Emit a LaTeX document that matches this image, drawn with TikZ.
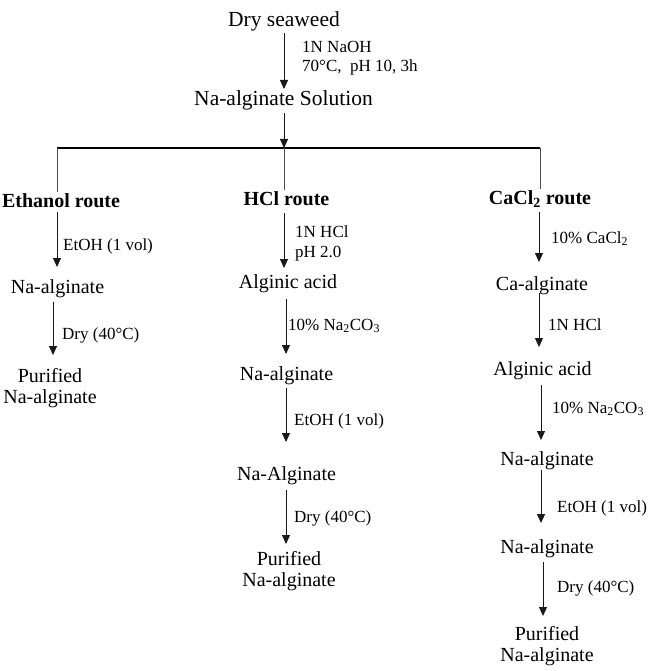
\documentclass[tikz,border=0pt]{standalone}
\usepackage{fontspec}
\setmainfont{Liberation Serif}
\usetikzlibrary{arrows.meta}
\begin{document}
\begin{tikzpicture}[x=1pt,y=-1pt,
  topn/.style={font=\fontsize{21.5}{23}\selectfont, inner sep=0pt, anchor=base},
  stepn/.style={font=\fontsize{20}{21}\selectfont, inner sep=0pt, anchor=base},
  endn/.style={font=\fontsize{20}{21}\selectfont, inner sep=0pt, anchor=north, align=center},
  route/.style={font=\fontsize{20}{21}\selectfont\bfseries, inner sep=1pt, anchor=base},
  lbl/.style={font=\fontsize{17}{19}\selectfont, inner sep=0pt, anchor=base west},
  arr/.style={draw=black!90, line width=0.9pt, -{Triangle[length=9pt,width=8pt]}},
  ln/.style={draw=black!70, line width=0.9pt},
  hl/.style={draw=black, line width=1.2pt}]
\useasboundingbox[fill=white] (0,0) rectangle (665,671);

% top
\node[topn] (dry) at (284,27) {Dry seaweed};
\node[topn] (sol) at (283.5,106) {Na-alginate Solution};
\node[lbl] (c1a) at (302,53) {1N NaOH};
\node[lbl] (c1b) at (302,72) {70°C,\ \ pH 10, 3h};
\draw[arr] ([yshift=-6pt]dry.base) -- ([xshift=0.5pt,yshift=17pt]sol.base);

\coordinate (jL) at (57,148);
\coordinate (jM) at (284,148);
\coordinate (jR) at (540,148);
\draw[arr] ([xshift=0.5pt,yshift=-7pt]sol.base) -- (jM);
\draw[hl] (jL) -- (jR);

% routes
\node[route] (eth) at (61,207) {Ethanol route};
\node[route] (hcl) at (286.5,205) {HCl route};
\node[route] (cac) at (540,204) {CaCl\textsubscript{2} route};
\draw[ln] (jL) -- (jL |- eth.north);
\draw[ln] (jM) -- (jM |- hcl.north);
\draw[ln] (jR) -- (jR |- cac.north);

% left column
\node[stepn] (L1) at (57.5,293) {Na-alginate};
\node[endn] (L2) at (50,368.5) {Purified\\Na-alginate};
\node[lbl] (lL1) at (63,250) {EtOH (1 vol)};
\node[lbl] (lL2) at (62,339) {Dry (40°C)};
\draw[arr] ([xshift=-4pt,yshift=-5pt]eth.base) -- ([xshift=-0.5pt,yshift=26pt]L1.base);
\draw[arr] ([xshift=-4.5pt,yshift=-9pt]L1.base) -- ([xshift=3pt,yshift=13.5pt]L2.north);

% middle column
\node[stepn] (M1) at (288,288) {Alginic acid};
\node[stepn] (M2) at (286.5,380) {Na-alginate};
\node[stepn] (M3) at (286.5,480) {Na-Alginate};
\node[endn] (M4) at (289,551.3) {Purified\\Na-alginate};
\node[lbl] (lM1a) at (295,237) {1N HCl};
\node[lbl] (lM1b) at (295,257) {pH 2.0};
\node[lbl] (lM2) at (288,330) {10\% Na\textsubscript{2}CO\textsubscript{3}};
\node[lbl] (lM3) at (294,425) {EtOH (1 vol)};
\node[lbl] (lM4) at (294,522) {Dry (40°C)};
\draw[arr] ([xshift=-2.5pt,yshift=-8pt]hcl.base) -- ([xshift=-4pt,yshift=20pt]M1.base);
\draw[arr] ([xshift=-2pt,yshift=-11pt]M1.base) -- ([xshift=-0.5pt,yshift=26pt]M2.base);
\draw[arr] ([xshift=-0.5pt,yshift=-8pt]M2.base) -- ([xshift=-0.5pt,yshift=38pt]M3.base);
\draw[arr] ([xshift=-0.5pt,yshift=-10pt]M3.base) -- ([xshift=-3pt,yshift=7.3pt]M4.north);

% right column
\node[stepn] (R1) at (542,290) {Ca-alginate};
\node[stepn] (R2) at (542.5,375) {Alginic acid};
\node[stepn] (R3) at (547,465) {Na-alginate};
\node[stepn] (R4) at (547,553) {Na-alginate};
\node[endn] (R5) at (547,626.3) {Purified\\Na-alginate};
\node[lbl] (lR1) at (551,243) {10\% CaCl\textsubscript{2}};
\node[lbl] (lR2) at (548,330) {1N HCl};
\node[lbl] (lR3) at (552,413) {10\% Na\textsubscript{2}CO\textsubscript{3}};
\node[lbl] (lR4) at (557,512) {EtOH (1 vol)};
\node[lbl] (lR5) at (557,592) {Dry (40°C)};
\draw[arr] ([xshift=-1pt,yshift=-8pt]cac.base) -- ([xshift=-3pt,yshift=28pt]R1.base);
\draw[arr] ([xshift=-3pt,yshift=-3pt]R1.base) -- ([xshift=-3.5pt,yshift=28pt]R2.base);
\draw[arr] ([xshift=-1.5pt,yshift=-10pt]R2.base) -- ([xshift=-6pt,yshift=25pt]R3.base);
\draw[arr] ([xshift=-6pt,yshift=-5pt]R3.base) -- ([xshift=-6pt,yshift=30pt]R4.base);
\draw[arr] ([xshift=-4pt,yshift=-9pt]R4.base) -- ([xshift=-4pt,yshift=10.3pt]R5.north);
\end{tikzpicture}
\end{document}
